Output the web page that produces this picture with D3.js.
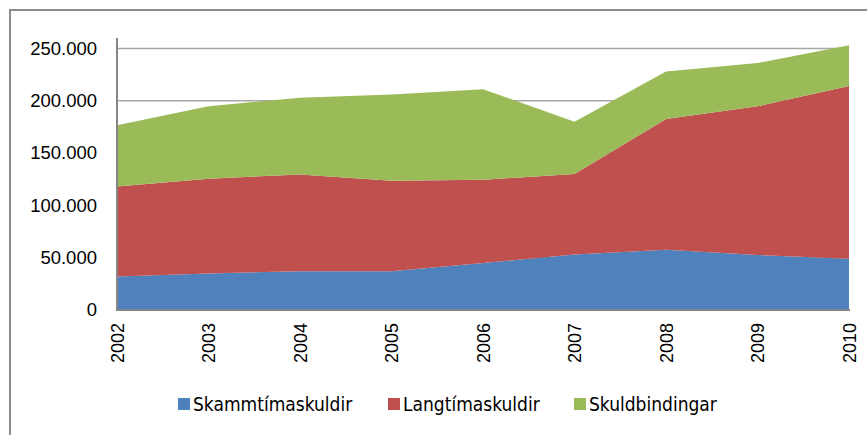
<!DOCTYPE html>
<html>
<head>
<meta charset="utf-8">
<script src="https://cdn.jsdelivr.net/npm/d3@7"></script>
<style>
  body { margin: 0; background: #fff; }
  svg { display: block; }
  .tick text { font-family: "Liberation Sans", Arial, sans-serif; }
</style>
</head>
<body>
<svg width="867" height="435"></svg>
<script>
// data
const years = [2002, 2003, 2004, 2005, 2006, 2007, 2008, 2009, 2010];
const skammtima = [32000, 35000, 37000, 37000, 45000, 53000, 57500, 52500, 49000];
const langtima = [86000, 90500, 92600, 86600, 79500, 77000, 125100, 142200, 165000];
const skuldbindingar = [58500, 69200, 73400, 82400, 86500, 50000, 45400, 41300, 39000];
const seriesNames = ["Skammtímaskuldir", "Langtímaskuldir", "Skuldbindingar"];
const colors = ["#4F81BD", "#C0504D", "#9BBB59"];
const yTicks = [0, 50000, 100000, 150000, 200000, 250000];

const rows = years.map((y, i) => ({
  year: y,
  [seriesNames[0]]: skammtima[i],
  [seriesNames[1]]: langtima[i],
  [seriesNames[2]]: skuldbindingar[i]
}));

const svg = d3.select("svg");

// outer chart border (left and top only visible)
svg.append("path")
  .attr("d", "M10,435 L10,10 L867,10")
  .attr("fill", "none")
  .attr("stroke", "#8c8c8c")
  .attr("stroke-width", 2);

const x = d3.scaleLinear().domain([2002, 2010]).range([117, 849]);
const y = d3.scaleLinear().domain([0, 260000]).range([310, 38]);

// gridlines
svg.append("g")
  .selectAll("line")
  .data(yTicks.slice(1))
  .enter()
  .append("line")
  .attr("x1", 117).attr("x2", 849)
  .attr("y1", d => y(d)).attr("y2", d => y(d))
  .attr("stroke", "#a6a6a6")
  .attr("stroke-width", 1.5);

const stack = d3.stack().keys(seriesNames);
const layers = stack(rows);

const area = d3.area()
  .x(d => x(d.data.year))
  .y0(d => y(d[0]))
  .y1(d => y(d[1]));

svg.append("g")
  .selectAll("path")
  .data(layers)
  .enter()
  .append("path")
  .attr("d", area)
  .attr("fill", (d, i) => colors[i]);

// y axis
const yAxis = svg.append("g")
  .attr("transform", "translate(117,0)")
  .call(d3.axisLeft(y).tickValues(yTicks).tickSize(0).tickPadding(20)
    .tickFormat(d => d === 0 ? "0" : d3.format(",")(d).replace(/,/g, ".")));
yAxis.select(".domain").remove();
yAxis.selectAll("text").attr("font-size", 18.5).attr("fill", "#000");
svg.append("line")
  .attr("x1", 117).attr("x2", 117).attr("y1", 38).attr("y2", 311)
  .attr("stroke", "#868686").attr("stroke-width", 2);

// x axis
const xAxis = svg.append("g")
  .attr("transform", "translate(0,310)")
  .call(d3.axisBottom(x).tickValues(years).tickSize(0).tickFormat(d3.format("d")));
xAxis.select(".domain").remove();
xAxis.selectAll("text")
  .attr("font-size", 18)
  .attr("fill", "#000")
  .attr("text-anchor", "end")
  .attr("transform", "rotate(-90)")
  .attr("x", -13)
  .attr("y", 0)
  .attr("dy", "0.35em");
svg.append("line")
  .attr("x1", 116).attr("x2", 850).attr("y1", 310).attr("y2", 310)
  .attr("stroke", "#868686").attr("stroke-width", 2);

// legend
const legendX = [178, 388, 574];
const legend = svg.append("g")
  .selectAll("g")
  .data(seriesNames)
  .enter()
  .append("g")
  .attr("transform", (d, i) => `translate(${legendX[i]},398)`);
legend.append("rect")
  .attr("width", 12).attr("height", 12)
  .attr("fill", (d, i) => colors[i]);
legend.append("text")
  .attr("x", 15).attr("y", 13)
  .attr("font-family", "'Liberation Sans Narrow', 'DejaVu Sans Condensed', sans-serif")
  .attr("font-size", 19)
  .attr("fill", "#000")
  .text(d => d);
</script>
</body>
</html>
